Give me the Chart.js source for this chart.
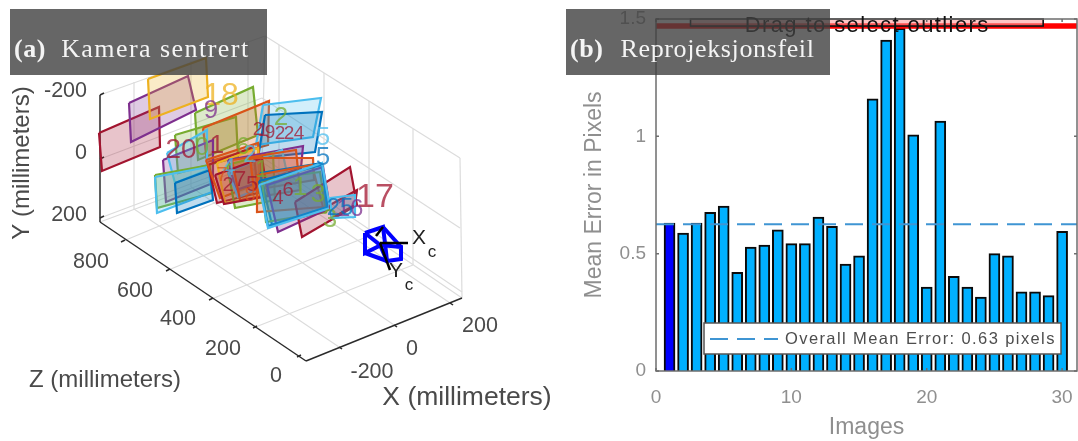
<!DOCTYPE html>
<html><head><meta charset="utf-8">
<script src="https://cdn.jsdelivr.net/npm/chart.js@4"></script>
<style>
html,body{margin:0;padding:0;background:#fff;overflow:hidden}
#page{position:relative;width:1078px;height:441px;overflow:hidden}
.cv{position:absolute;top:0;height:441px;filter:blur(0.45px)}
#wa{left:0;width:560px}#wb{left:560px;width:518px}
.cap{position:absolute;top:9px;height:66px;background:rgba(64,64,64,.8);color:#f4f4f4;font:26px "Liberation Serif",serif;line-height:80px;white-space:pre;box-sizing:border-box;padding-left:4px}
#ca{left:10px;width:257px;letter-spacing:1.45px}#cb{left:566px;width:264px;letter-spacing:.62px}
.cap b{font-weight:bold;letter-spacing:.6px;margin-right:15px}
#cb b{margin-right:17px}
</style></head><body>
<div id="page">
<div class="cv" id="wa"><canvas id="a" width="560" height="441"></canvas></div>
<div class="cv" id="wb"><canvas id="b" width="518" height="441"></canvas></div>
<div class="cap" id="ca"><b>(a)</b>Kamera sentrert</div>
<div class="cap" id="cb"><b>(b)</b>Reprojeksjonsfeil</div>
</div>
<script>
// ---------- panel (b) data
const imageNumbers = [1,2,3,4,5,6,7,8,9,10,11,12,13,14,15,16,17,18,19,20,21,22,23,24,25,26,27,28,29,30];
const meanErrors = [0.63,0.588,0.63,0.676,0.703,0.42,0.528,0.537,0.602,0.543,0.543,0.656,0.617,0.456,0.491,1.16,1.41,1.46,1.006,0.358,1.065,0.403,0.358,0.315,0.5,0.491,0.337,0.337,0.321,0.595];
const selectedImage = 1;
const overallLine = 0.625;
const outlierLine = 1.47;
const xTicksB = [0,10,20,30];
const yTicksB = [0,0.5,1,1.5];
const legendTextB = "Overall Mean Error: 0.63 pixels";
const dragText = "Drag to select outliers";

// ---------- panel (a) data: points
const gridSegments = [
 [[100,95],[265,36]],[[265,36],[460,158]],[[460,158],[462,298]],[[265,36],[262,162]],
 [[100,222],[262,162]],[[262,162],[462,298]],
 [[134,82],[134,209]],[[191,61],[191,187]],[[248,41],[248,166]],
 [[279,45],[279,176]],[[324,73],[324,206]],[[369,101],[369,236]],[[413,129],[413,265]],
 [[100,159],[262,98]],[[262,98],[460,228]],[[100,218],[262,157]],[[262,157],[462,292]],
 [[342,349],[134,209]],[[397,327],[191,187]],[[453,305],[248,166]],
 [[253,328],[413,265]],[[209,300],[369,236]],[[166,271],[324,206]],[[121,242],[279,176]]
];
const axisSegments = [
 [[100,95],[100,222]],[[100,222],[306,361]],[[306,361],[462,298]],
 [[100,95],[104,93]],[[100,159],[104,157]],[[100,218],[104,216]],
 [[121,242],[125,240]],[[166,271],[170,269]],[[209,300],[213,298]],[[253,328],[257,326]],[[297,357],[301,355]],
 [[342,349],[339,347]],[[397,327],[394,325]],[[453,305],[450,303]]
];
const panelColors = ["#A2142F","#7E2F8E","#EDB120","#77AC30","#77AC30","#D95319","#4DBEEE","#0072BD","#7E2F8E","#4DBEEE","#77AC30","#4DBEEE","#0072BD","#A2142F","#D95319","#EDB120","#7E2F8E","#77AC30","#4DBEEE","#D95319","#A2142F","#D95319","#0072BD","#D95319","#77AC30","#7E2F8E","#A2142F","#0072BD","#4DBEEE","#A2142F","#4DBEEE"];
const panels = [
 [[99,133],[159,107],[160,147],[102,171]],
 [[129,103],[188,76],[196,110],[131,142]],
 [[148,79],[206,58],[208,97],[150,119]],
 [[195,113],[253,87],[258,135],[198,160]],
 [[175,135],[236,117],[238,157],[178,173]],
 [[203,128],[269,101],[268,145],[207,162]],
 [[263,105],[321,98],[313,137],[256,145]],
 [[265,115],[322,112],[315,152],[258,158]],
 [[163,160],[213,140],[213,183],[166,202]],
 [[167,153],[207,130],[207,170],[175,183]],
 [[155,175],[210,165],[212,193],[157,208]],
 [[155,177],[208,167],[212,192],[157,213]],
 [[175,183],[210,170],[213,200],[177,213]],
 [[208,165],[253,147],[258,193],[217,203]],
 [[206,160],[258,143],[262,182],[220,198]],
 [[217,163],[258,148],[260,197],[225,203]],
 [[228,160],[303,146],[301,168],[236,190]],
 [[227,165],[273,153],[275,200],[235,208]],
 [[228,172],[282,150],[288,178],[238,197]],
 [[232,160],[296,150],[300,190],[240,200]],
 [[215,175],[262,158],[268,196],[224,204]],
 [[250,158],[313,158],[314,180],[254,190]],
 [[260,173],[322,163],[328,210],[272,225]],
 [[257,175],[312,165],[323,207],[257,212]],
 [[262,180],[320,172],[326,212],[266,222]],
 [[267,185],[323,167],[330,208],[278,232]],
 [[295,202],[350,167],[357,205],[302,237]],
 [[259,181],[322,165],[327,207],[268,226]],
 [[259,185],[322,163],[330,208],[268,228]],
 [[330,205],[357,190],[355,205],[332,218]],
 [[330,198],[355,195],[355,217],[332,218]]
];
const panelLabels = [
 ["18",221,96,"#EDB120",32],["9",211,111,"#7E2F8E",26],["20",181,150,"#A2142F",28],["0",202,148,"#77AC30",26],["1",217,146,"#A2142F",26],
 ["2",281,118,"#77AC30",26],["1",263,131,"#A2142F",19],["9",270,133,"#A2142F",19],["2",280,134,"#A2142F",19],["2",289,134,"#A2142F",19],["4",299,134,"#A2142F",19],["2",258,130,"#A2142F",19],
 ["6",243,147,"#77AC30",24],["2",250,155,"#4DBEEE",24],["4",229,168,"#4DBEEE",24],["7",240,180,"#A2142F",22],["2",228,185,"#A2142F",20],["7",222,175,"#D95319",20],["5",252,185,"#A2142F",22],["8",250,195,"#D95319",20],["1",262,170,"#77AC30",24],
 ["5",323,138,"#4DBEEE",26],["5",323,158,"#0072BD",26],["6",288,190,"#A2142F",20],["4",278,198,"#A2142F",20],["1",300,188,"#77AC30",26],["3",318,195,"#77AC30",26],
 ["3",330,220,"#77AC30",26],["17",375,198,"#A2142F",34],["16",350,209,"#7E2F8E",24],["25",340,208,"#0072BD",24]
];
const cameraPolygons = [
 [[365,233],[383,227],[385,243],[365,253],[365,233]],
 [[380,245],[401,247],[401,259],[387,261],[380,245]],
 [[383,227],[401,247]],[[365,253],[387,261]],[[365,233],[380,245]],[[385,243],[387,261]]
];
const cameraAxes = [[[380,243],[408,243]],[[380,243],[390,270]],[[376,236],[383,227]]];
const tickLabelsA = [
 ["-200",87,91,"r"],["0",87,153,"r"],["200",87,215,"r"],
 ["800",91,262,"c"],["600",135,291,"c"],["400",178,319,"c"],["200",223,349,"c"],["0",276,376,"c"],
 ["-200",372,372,"c"],["0",412,349,"c"],["200",480,326,"c"]
];
const axisTitlesA = [["Z (millimeters)",105,380,0,24],["X (millimeters)",467,398,0,26.5],["Y (millimeters)",22,163,-90,24]];
const cameraLabels = [["X",419,238,21],["c",432,252,17],["Y",396,271,21],["c",409,285,17]];

Chart.defaults.animation = false;
Chart.defaults.responsive = false;
const SANS = '"Liberation Sans",Arial,sans-serif';

// ---------- panel (a)
const polyDS = (pts,c,w,fillC) => ({data:pts.map(p=>({x:p[0],y:p[1]})),borderColor:c,borderWidth:w,pointRadius:0,showLine:true,tension:0,fill:false,polyFill:fillC||null,spanGaps:true});
function alpha(h,a){const n=parseInt(h.slice(1),16);return `rgba(${n>>16},${(n>>8)&255},${n&255},${a})`}
const dsA = [];
gridSegments.forEach(s=>dsA.push(polyDS(s,"#dcdcdc",1.2)));
axisSegments.forEach(s=>dsA.push(polyDS(s,"#2b2b2b",1.5)));
panels.forEach((p,i)=>{const c=panelColors[i%panelColors.length];dsA.push(polyDS([...p,p[0]],c,2.2,alpha(c,.25)));});
dsA.forEach((d,i)=>{d.order=dsA.length-i;});
const polyFill = {id:'polyFill',beforeDatasetDraw(ch,args){
  const ds=ch.data.datasets[args.index]; if(!ds.polyFill) return;
  const pts=ch.getDatasetMeta(args.index).data, c=ch.ctx;
  c.save();c.beginPath();pts.forEach((e,i)=>i?c.lineTo(e.x,e.y):c.moveTo(e.x,e.y));c.closePath();c.fillStyle=ds.polyFill;c.fill();c.restore();
}};
const labelsA = {id:'labelsA',afterDatasetsDraw(ch){
  const c=ch.ctx,X=ch.scales.x,Y=ch.scales.y;c.save();c.textBaseline='middle';
  panelLabels.forEach(l=>{c.font=`${l[4]}px ${SANS}`;c.textAlign='center';c.fillStyle=alpha(l[3],.75);c.fillText(l[0],X.getPixelForValue(l[1]),Y.getPixelForValue(l[2]));});
  cameraPolygons.forEach(p=>{c.strokeStyle='#0000ff';c.lineWidth=4;c.beginPath();p.forEach((q,i)=>{const a=X.getPixelForValue(q[0]),b=Y.getPixelForValue(q[1]);i?c.lineTo(a,b):c.moveTo(a,b)});c.stroke();});
  cameraAxes.forEach(p=>{c.strokeStyle='#000';c.lineWidth=2.5;c.beginPath();p.forEach((q,i)=>{const a=X.getPixelForValue(q[0]),b=Y.getPixelForValue(q[1]);i?c.lineTo(a,b):c.moveTo(a,b)});c.stroke();});
  c.fillStyle='#222';c.textAlign='center';
  cameraLabels.forEach(l=>{c.font=`${l[3]}px ${SANS}`;c.fillText(l[0],X.getPixelForValue(l[1]),Y.getPixelForValue(l[2]));});
  c.fillStyle='#4a4a4a';c.font=`21.5px ${SANS}`;
  tickLabelsA.forEach(l=>{c.textAlign=l[3]==='r'?'right':'center';c.fillText(l[0],X.getPixelForValue(l[1]),Y.getPixelForValue(l[2]));});
  c.textAlign='center';
  axisTitlesA.forEach(l=>{c.save();c.translate(X.getPixelForValue(l[1]),Y.getPixelForValue(l[2]));c.rotate(l[3]*Math.PI/180);c.font=`${l[4]}px ${SANS}`;c.fillStyle='#4a4a4a';c.fillText(l[0],0,0);c.restore();});
  c.restore();
}};
new Chart(document.getElementById('a'),{type:'scatter',data:{datasets:dsA},plugins:[polyFill,labelsA],options:{
  maintainAspectRatio:false,layout:{padding:0},clip:false,
  plugins:{legend:{display:false},tooltip:{enabled:false}},
  scales:{x:{type:'linear',display:false,min:0,max:560},y:{type:'linear',display:false,min:0,max:441,reverse:true}}
}});

// ---------- panel (b)
const AX='#6e6e6e', TK='#8f8f8f';
const frameB={id:'frameB',afterDatasetsDraw(ch){
  const c=ch.ctx,a=ch.chartArea,X=ch.scales.x,Y=ch.scales.y;c.save();
  const yo=Y.getPixelForValue(outlierLine);
  const x0=X.getPixelForValue(2.55),x1=X.getPixelForValue(28.6);
  c.fillStyle='rgba(255,150,150,.55)';c.fillRect(x0,a.top,x1-x0,yo-a.top);
  c.strokeStyle='#111';c.lineWidth=1.6;c.strokeRect(x0,a.top,x1-x0,yo-a.top);
  c.strokeStyle=AX;c.lineWidth=1.5;c.strokeRect(a.left,a.top,a.width,a.height);
  c.beginPath();
  xTicksB.forEach(t=>{const p=X.getPixelForValue(t);c.moveTo(p,a.bottom);c.lineTo(p,a.bottom-3);c.moveTo(p,a.top);c.lineTo(p,a.top+3);});
  yTicksB.forEach(t=>{const p=Y.getPixelForValue(t);c.moveTo(a.left,p);c.lineTo(a.left+3,p);c.moveTo(a.right,p);c.lineTo(a.right-3,p);});
  c.stroke();
  c.fillStyle='#111';c.font=`22px ${SANS}`;c.textAlign='center';c.textBaseline='middle';
  if('letterSpacing' in c)c.letterSpacing='1.4px';
  c.fillText(dragText,X.getPixelForValue(15.6),a.top+7);
  const lx=704-560,ly=323,lw=357,lh=31;
  c.fillStyle='#fff';c.fillRect(lx,ly,lw,lh);c.strokeStyle='#555';c.lineWidth=1.5;c.strokeRect(lx,ly,lw,lh);
  c.strokeStyle='#3f95d3';c.lineWidth=2;c.setLineDash([18,9]);c.beginPath();c.moveTo(lx+6,ly+16);c.lineTo(lx+74,ly+16);c.stroke();c.setLineDash([]);
  c.fillStyle='#4d4d4d';c.font=`16.5px ${SANS}`;c.textAlign='left';
  if('letterSpacing' in c)c.letterSpacing='1.4px';
  c.fillText(legendTextB,lx+81,ly+16);
  if('letterSpacing' in c)c.letterSpacing='0px';
  c.restore();
}};
new Chart(document.getElementById('b'),{
 data:{datasets:[
  {type:'bar',order:3,data:imageNumbers.map((n,i)=>({x:n,y:meanErrors[i]})),barThickness:11,borderWidth:2,borderColor:'#0a0a0a',
   backgroundColor:ctx=>ctx.raw&&ctx.raw.x===selectedImage?'#0000ff':'#00b0ff'},
  {type:'line',order:2,data:[{x:0,y:overallLine},{x:31.1,y:overallLine}],borderColor:'#3f95d3',borderWidth:2,borderDash:[18,9],pointRadius:0},
  {type:'line',order:1,data:[{x:0,y:outlierLine},{x:31.1,y:outlierLine}],borderColor:'#ff0000',borderWidth:5.5,pointRadius:0}
 ]},
 plugins:[frameB],
 options:{maintainAspectRatio:false,layout:{padding:{top:19,right:1,left:0,bottom:0}},
  plugins:{legend:{display:false},tooltip:{enabled:false}},
  scales:{
   x:{type:'linear',offset:false,min:0,max:31.1,afterBuildTicks(s){s.ticks=xTicksB.map(v=>({value:v}))},
      grid:{display:false,offset:false,drawTicks:false},border:{display:false},
      ticks:{color:TK,font:{family:SANS,size:19},padding:15,maxRotation:0},
      title:{display:true,text:'Images',color:TK,font:{family:SANS,size:23},padding:{top:0,bottom:0}},
      afterFit(s){s.height=70;s.paddingLeft=0;s.paddingRight=0}},
   y:{type:'linear',min:0,max:1.5,afterBuildTicks(s){s.ticks=yTicksB.map(v=>({value:v}))},
      grid:{display:false,drawTicks:false},border:{display:false},
      ticks:{color:TK,font:{family:SANS,size:19},padding:10,callback:v=>String(v)},
      title:{display:true,text:'Mean Error in Pixels',color:TK,font:{family:SANS,size:23},padding:{top:21,bottom:0}},
      afterFit(s){s.width=96;s.paddingTop=0;s.paddingBottom=0}}
  }}
});
</script>
</body></html>
